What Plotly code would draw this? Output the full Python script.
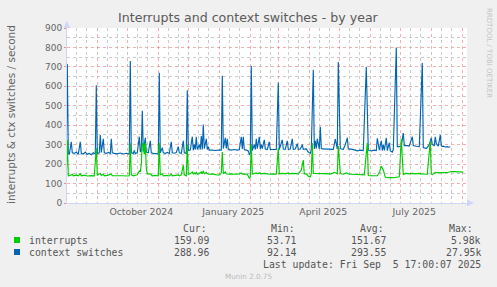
import pandas as pd
import plotly.graph_objects as go

# ---------------- data ----------------
START = pd.Timestamp("2024-08-01 17:00")
END = pd.Timestamp("2025-09-05 17:00")

# day offsets from 2024-08-01 and values (per second)
ctx_day = [0, 1, 2, 3, 5, 6, 8, 10, 12, 14, 15, 17, 19, 21, 23, 25, 27, 29, 30, 31, 33, 34, 35, 37, 38, 40,
           42, 44, 45, 46, 48, 51, 54, 57, 60, 63, 64, 65, 67, 68, 69, 71, 73, 74, 75, 76, 77, 79, 80, 82,
           84, 85, 87, 90, 92, 93, 94, 96, 97, 99, 101, 103, 105, 106, 108, 110, 112, 113, 115, 117, 118,
           120, 121, 122, 124, 126, 127, 128, 129, 130, 131, 133, 134, 135, 136, 137, 138, 140, 141, 142,
           143, 146, 149, 152, 154, 155, 156, 157, 159, 160, 161, 162, 165, 168, 171, 173, 175, 176, 177,
           178, 180, 182, 183, 184, 185, 186, 188, 189, 190, 191, 193, 194, 195, 196, 198, 199, 201, 203,
           204, 207, 210, 212, 213, 216, 217, 219, 221, 222, 224, 226, 227, 229, 231, 232, 234, 236, 237,
           240, 242, 244, 245, 247, 248, 249, 250, 251, 253, 254, 255, 256, 258, 261, 264, 267, 269, 271,
           272, 274, 275, 277, 279, 281, 282, 283, 286, 289, 291, 294, 297, 300, 302, 303, 305, 308, 310,
           311, 313, 315, 316, 317, 318, 320, 321, 323, 324, 326, 327, 330, 331, 333, 335, 337, 338, 341,
           343, 346, 347, 350, 353, 356, 357, 360, 363, 365, 366, 368, 369, 370, 371, 372, 374, 375, 376,
           377, 379, 381, 382, 384, 387, 390, 393, 396, 399]
ctx_val = [260, 715, 255, 250, 315, 258, 255, 262, 250, 315, 255, 252, 262, 250, 255, 248, 258, 252, 605, 255,
           258, 350, 260, 330, 258, 255, 260, 255, 330, 258, 255, 253, 257, 252, 256, 252, 730, 258, 255,
           270, 255, 258, 341, 262, 270, 475, 265, 335, 262, 258, 320, 258, 255, 255, 253, 670, 258, 285,
           258, 255, 260, 255, 315, 258, 256, 260, 290, 258, 256, 320, 258, 255, 580, 270, 272, 341, 272,
           300, 275, 340, 275, 300, 275, 345, 275, 404, 280, 330, 275, 290, 272, 272, 270, 272, 274, 272,
           655, 280, 335, 280, 330, 275, 272, 275, 272, 275, 340, 278, 340, 275, 272, 268, 250, 255, 705,
           270, 300, 275, 330, 280, 340, 278, 300, 280, 325, 278, 275, 315, 276, 276, 275, 620, 275, 325,
           278, 276, 320, 276, 278, 330, 276, 278, 305, 276, 278, 300, 276, 278, 262, 255, 275, 685, 278,
           320, 280, 330, 278, 392, 280, 278, 278, 276, 278, 276, 329, 278, 725, 280, 278, 276, 300, 335,
           278, 278, 276, 272, 268, 272, 270, 700, 272, 270, 268, 272, 270, 333, 272, 320, 270, 300, 270,
           335, 270, 310, 268, 262, 275, 800, 290, 290, 293, 360, 295, 295, 293, 341, 295, 292, 290, 720,
           285, 280, 300, 335, 300, 295, 340, 305, 295, 292, 350, 295, 290, 292, 288, 290, 287, 289]

irq_day = [0, 1, 2, 4, 6, 7, 10, 12, 14, 15, 18, 21, 25, 28, 30, 31, 34, 35, 37, 38, 41, 45, 46, 49, 53, 57,
           61, 63, 64, 65, 67, 71, 73, 74, 75, 76, 77, 78, 79, 80, 81, 84, 86, 89, 92, 93, 94, 96, 97, 100,
           103, 105, 106, 109, 112, 113, 115, 117, 118, 120, 121, 122, 124, 126, 127, 128, 129, 130, 131,
           133, 135, 136, 137, 138, 140, 141, 143, 146, 149, 152, 154, 155, 156, 157, 159, 160, 162, 165,
           168, 171, 173, 175, 176, 178, 181, 183, 184, 185, 186, 188, 190, 191, 193, 195, 198, 201, 204,
           207, 210, 212, 213, 216, 219, 222, 223, 226, 229, 232, 235, 236, 237, 238, 240, 242, 244, 245,
           246, 247, 248, 250, 253, 256, 259, 262, 265, 268, 271, 272, 274, 275, 277, 280, 282, 283, 286,
           289, 292, 295, 298, 301, 302, 303, 305, 307, 311, 313, 315, 317, 318, 319, 321, 324, 327, 330,
           333, 335, 337, 338, 340, 343, 346, 349, 352, 355, 358, 361, 364, 365, 366, 368, 370, 373, 376,
           379, 382, 385, 388, 391, 394, 397, 399]
irq_val = [140, 324, 140, 142, 148, 140, 143, 140, 150, 140, 143, 139, 141, 140, 283, 142, 152, 142, 148, 140,
           142, 148, 140, 141, 139, 140, 139, 140, 309, 145, 140, 145, 165, 160, 200, 309, 300, 250, 309,
           180, 150, 150, 140, 142, 140, 309, 145, 150, 140, 142, 139, 148, 140, 141, 145, 140, 145, 195,
           145, 140, 300, 148, 150, 160, 148, 155, 148, 160, 148, 152, 160, 150, 165, 150, 158, 150, 148,
           150, 145, 143, 148, 155, 262, 150, 160, 150, 148, 150, 148, 147, 150, 155, 148, 150, 148, 128,
           135, 303, 148, 152, 155, 150, 155, 150, 152, 150, 148, 150, 148, 283, 150, 152, 150, 155, 150,
           152, 150, 150, 170, 200, 221, 150, 150, 138, 135, 150, 309, 152, 152, 150, 152, 150, 152, 150,
           150, 158, 150, 293, 155, 150, 148, 155, 150, 148, 148, 147, 148, 146, 145, 309, 142, 140, 140,
           138, 140, 155, 190, 170, 140, 132, 130, 132, 130, 132, 135, 329, 145, 150, 152, 150, 152, 150,
           152, 150, 150, 148, 319, 150, 145, 155, 156, 155, 157, 156, 158, 162, 161, 160, 162, 159]

tick_dates = ["2024-10-15", "2025-01-15", "2025-04-15", "2025-07-15"]
tick_text = ["October 2024", "January 2025", "April 2025", "July 2025"]

legend_names = ["interrupts", "context switches"]
legend_colors = ["#00CC00", "#0066B3"]
stat_headers = ["Cur:", "Min:", "Avg:", "Max:"]
stats = [["159.09", "53.71", "151.67", "5.98k"],
         ["288.96", "92.14", "293.55", "27.95k"]]
last_update = "Last update: Fri Sep\u00a0\u00a05 17:00:07 2025"

# ---------------- figure ----------------
ctx_x = START.normalize() + pd.to_timedelta(ctx_day, unit="D")
irq_x = START.normalize() + pd.to_timedelta(irq_day, unit="D")

fig = go.Figure()
fig.add_trace(go.Scatter(x=ctx_x, y=ctx_val, mode="lines",
                         line=dict(color=legend_colors[1], width=1.15), name=legend_names[1]))
fig.add_trace(go.Scatter(x=irq_x, y=irq_val, mode="lines",
                         line=dict(color=legend_colors[0], width=1.15), name=legend_names[0]))

L, R, T, B = 67, 30, 28, 84
W, H = 497, 287
PW, PH = W - L - R, H - T - B


def px(x):
    return (x - L) / PW


def py(y):
    return (H - B - y) / PH


month_starts = pd.date_range("2024-08-01", "2025-09-01", freq="MS")
minor_days = [d + pd.Timedelta(days=k) for d in month_starts for k in (10, 20)]

axis_col = "#CFD6F8"
red_grid = "rgba(235,110,110,0.55)"
gray_grid = "rgba(190,190,190,0.8)"
rng = [START, END]

fig.update_layout(
    width=W, height=H,
    margin=dict(l=L, r=R, t=T, b=B, pad=0),
    paper_bgcolor="#F0F0F0", plot_bgcolor="#FFFFFF",
    showlegend=False,
    font=dict(family="DejaVu Sans", color="#666666"),
    xaxis=dict(type="date", range=rng, tickmode="array", tickvals=tick_dates, ticktext=tick_text,
               showgrid=False, ticks="", showline=True, linecolor=axis_col, linewidth=1,
               tickfont=dict(size=9.3, color="#666666"), zeroline=False, fixedrange=True),
    xaxis3=dict(type="date", range=rng, overlaying="x", tickmode="array", tickvals=minor_days,
                showticklabels=False, ticks="", showgrid=True, gridcolor=gray_grid, griddash="dot",
                gridwidth=1, showline=False, zeroline=False),
    xaxis2=dict(type="date", range=rng, overlaying="x", tickmode="array", tickvals=list(month_starts),
                showticklabels=False, ticks="", showgrid=True, gridcolor=red_grid, griddash="dot",
                gridwidth=1, showline=False, zeroline=False),
    yaxis=dict(range=[0, 900], dtick=100, tick0=0, showgrid=True, gridcolor=red_grid, griddash="dot",
               gridwidth=1, ticks="outside", ticklen=2, tickcolor="rgba(235,120,120,0.8)",
               showline=True, linecolor=axis_col, linewidth=1, zeroline=False,
               tickfont=dict(size=9, color="#666666"),
               minor=dict(dtick=50, showgrid=True, gridcolor=gray_grid, griddash="dot", gridwidth=1)),
)
# helper traces so overlay axes render
fig.add_trace(go.Scatter(x=[START], y=[0], xaxis="x2", mode="lines", hoverinfo="skip", showlegend=False))
fig.add_trace(go.Scatter(x=[START], y=[0], xaxis="x3", mode="lines", hoverinfo="skip", showlegend=False))

ann = []
ann.append(dict(text="Interrupts and context switches - by year", x=px(248), y=py(18), xref="paper",
                yref="paper", showarrow=False, xanchor="center", yanchor="middle",
                font=dict(size=12.6, color="#5a5a5a")))
ann.append(dict(text="interrupts & ctx switches / second", x=px(11), y=py(115), xref="paper",
                yref="paper", showarrow=False, textangle=-90, xanchor="center", yanchor="middle",
                font=dict(size=10.5, color="#666666")))
ann.append(dict(text="RRDTOOL / TOBI OETIKER", x=px(489), y=py(53), xref="paper", yref="paper",
                showarrow=False, textangle=90, xanchor="center", yanchor="middle",
                font=dict(size=7, color="#C4C4C4")))
ann.append(dict(text="Munin 2.0.75", x=px(248), y=py(276), xref="paper", yref="paper",
                showarrow=False, xanchor="center", yanchor="middle",
                font=dict(size=7.2, color="#BBBBBB")))

mono = "DejaVu Sans Mono"
hdr_left = [181, 269, 358, 447]
val_right = [211, 299, 388, 483]
for hx, h in zip(hdr_left, stat_headers):
    ann.append(dict(text=h, x=px(hx), y=py(228), xref="paper", yref="paper", showarrow=False,
                    xanchor="left", yanchor="middle", font=dict(family=mono, size=9.8, color="#555555")))
row_y = [240, 252]
shapes = []
for i, name in enumerate(legend_names):
    yy = row_y[i]
    shapes.append(dict(type="rect", xref="paper", yref="paper", x0=px(14), x1=px(20),
                       y0=py(yy + 3), y1=py(yy - 3), fillcolor=legend_colors[i], line=dict(width=0)))
    ann.append(dict(text=name, x=px(27), y=py(yy), xref="paper", yref="paper", showarrow=False,
                    xanchor="left", yanchor="middle", font=dict(family=mono, size=9.8, color="#555555")))
    for vx, v in zip(val_right, stats[i]):
        ann.append(dict(text=v, x=px(vx), y=py(yy), xref="paper", yref="paper", showarrow=False,
                        xanchor="right", yanchor="middle",
                        font=dict(family=mono, size=9.8, color="#555555")))
ann.append(dict(text=last_update, x=px(483), y=py(264), xref="paper", yref="paper", showarrow=False,
                xanchor="right", yanchor="middle", font=dict(family=mono, size=9.8, color="#555555")))

# axis arrows
shapes.append(dict(type="path", xref="paper", yref="paper",
                   path=f"M {px(63.5)} {py(28)} L {px(70)} {py(28)} L {px(66.7)} {py(21)} Z",
                   fillcolor=axis_col, line=dict(width=0)))
shapes.append(dict(type="path", xref="paper", yref="paper",
                   path=f"M {px(467)} {py(199.5)} L {px(467)} {py(206.5)} L {px(474)} {py(203)} Z",
                   fillcolor=axis_col, line=dict(width=0)))

fig.update_layout(annotations=ann, shapes=shapes)
fig.write_html("out.html")
